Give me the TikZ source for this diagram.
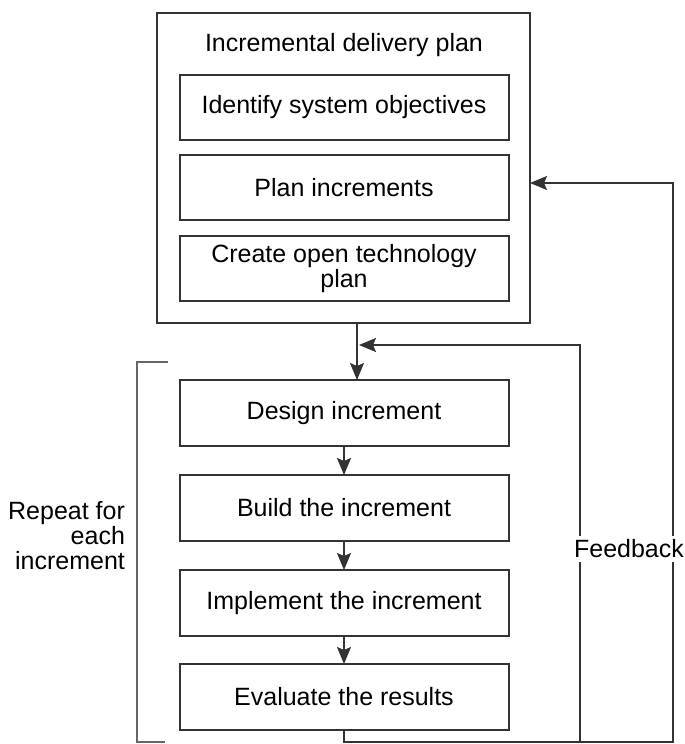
\documentclass[tikz,border=0pt]{standalone}
\usepackage{fontspec}
\setmainfont{Liberation Sans}
\usetikzlibrary{positioning,arrows.meta}

\begin{document}
\begin{tikzpicture}[%
    x=0.5pt,
    y=-0.5pt,
    >={Stealth[length=8.5pt,width=7pt,inset=1.5pt]},
    font=\fontsize{12.5}{12.5}\selectfont,
    node distance=7.5pt,
    stagebox/.style={%
      rectangle,
      draw=black!80,
      line width=1pt,
      outer sep=0pt,
      minimum width=164.5pt,
      minimum height=32.5pt,
      align=center
    },
    flow/.style={%
      ->,
      draw=black!80,
      line width=0.8pt
    }
  ]
    \useasboundingbox (0,0) rectangle (685,744);

    % delivery plan
    \node[draw=black!80, line width=1pt, outer sep=0pt, minimum width=186.5pt, minimum height=155pt] (plan) at (343.5,168) {};
    \node (title) at (344,45)                                  {Incremental delivery plan};
    \node[stagebox] (objectives) at (344,107.5)                {Identify system objectives};
    \node[stagebox] (increments) [below=of objectives]         {Plan increments};
    \node[stagebox] (techplan) [node distance=8pt, below=of increments] {Create open technology\\plan};

    % increment loop
    \node[stagebox, minimum height=33pt] (design) at (344,413)                                      {Design increment};
    \node[stagebox, minimum height=33pt] (build) [node distance=14.5pt, below=of design]            {Build the increment};
    \node[stagebox, minimum height=33pt] (implement) [node distance=14.5pt, below=of build]         {Implement the increment};
    \node[stagebox, minimum height=33pt] (evaluate) [node distance=14pt, below=of implement]        {Evaluate the results};

    \coordinate (drop) at (357,323);
    \coordinate (loopin) at (580,345);
    \coordinate (loopout) at (673,183);

    \draw[flow] (drop) -- (drop |- design.north);
    \path (design) edge[flow] (build)
          (build) edge[flow] (implement)
          (implement) edge[flow] (evaluate);

    % feedback
    \draw[flow] (evaluate.south) -- ++(0,12) -| (loopout) -- (plan.east |- loopout);
    \draw[flow, shorten >=1pt] (evaluate.south) -- ++(0,12) -| (loopin) -- (drop |- loopin);
    \node[fill=white, inner sep=2pt] (feedback) at (629,549)   {Feedback};

    % repeat bracket
    \coordinate (brtop) at (168,362);
    \coordinate (brbot) at (165,742);
    \draw[black!60, line width=0.6pt] (brtop) -| (137,742) -- (brbot);
    \node[align=right, anchor=east] (repeat) at (132,536)      {Repeat for\\each\\increment};
\end{tikzpicture}
\end{document}
